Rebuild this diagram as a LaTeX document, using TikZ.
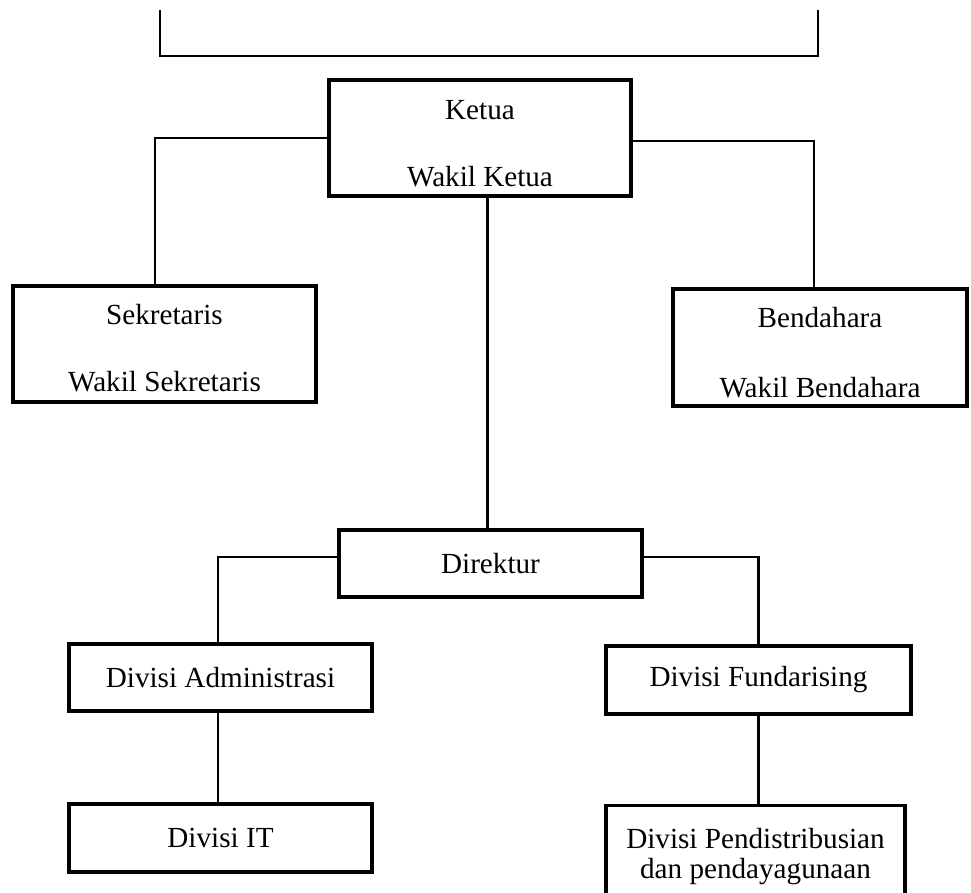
\documentclass[tikz,border=0pt]{standalone}
\usepackage{fontspec}
\setmainfont{Liberation Serif}
\usepackage{tikz}
\usetikzlibrary{calc}

\begin{document}
\begin{tikzpicture}[x=0.02cm,y=-0.02cm,
  kotak/.style={draw,line width=1.8pt,align=center,inner sep=0pt,
    font=\fontsize{16.6}{19.5}\selectfont},
  garis/.style={line width=1.4pt}]
\clip (0,0) rectangle (971,893);

% sisa kotak di atas
\draw[garis] (160,10) -- (160,56) -- (818,56) -- (818,10);

\node[kotak,minimum width=6.04cm,minimum height=2.32cm] (ketua) at (480,138)
  {\rule{0pt}{17.5pt}Ketua\\[18.6pt]Wakil Ketua};
\node[kotak,minimum width=6.06cm,minimum height=2.32cm] (sek) at (164.5,344)
  {\rule{0pt}{16pt}Sekretaris\\[18.6pt]Wakil Sekretaris};
\node[kotak,minimum width=5.88cm,minimum height=2.34cm] (bend) at (820,347.5)
  {\rule{0pt}{17pt}Bendahara\\[20.3pt]Wakil Bendahara};

\node[kotak,minimum width=6.06cm,minimum height=1.34cm] (dir) at (490.5,563.5) {Direktur};
\node[kotak,minimum width=6.06cm,minimum height=1.34cm] (adm) at (220.5,677.5) {Divisi Administrasi};
\node[kotak,minimum width=6.1cm,minimum height=1.36cm] (fund) at (758.5,680) {Divisi Fundarising};
\node[kotak,minimum width=6.06cm,minimum height=1.36cm] (it) at (220.5,838) {Divisi IT};
\node[kotak,minimum width=5.98cm,inner ysep=13pt,anchor=north] (pend) at (755.5,804)
  {Divisi Pendistribusian\\[-2.4pt]dan pendayagunaan};

% garis penghubung
\draw[garis] (ketua.west) -| ([xshift=-0.19cm]sek.north);
\draw[garis] ([yshift=-0.06cm]ketua.east) -| ([xshift=-0.12cm]bend.north);
\draw[garis] ([xshift=-0.06cm]dir.north |- ketua.south) -- ([xshift=-0.06cm]dir.north);
\draw[garis] ([yshift=0.13cm]dir.west) -| ([xshift=-0.05cm]adm.north);
\draw[garis] ([yshift=0.13cm]dir.east) -| (fund.north);
\draw[garis] ([xshift=-0.05cm]adm.south) -- ([xshift=-0.05cm]it.north);
\draw[garis] (fund.south) -- (fund.south |- pend.north);

\end{tikzpicture}
\end{document}
